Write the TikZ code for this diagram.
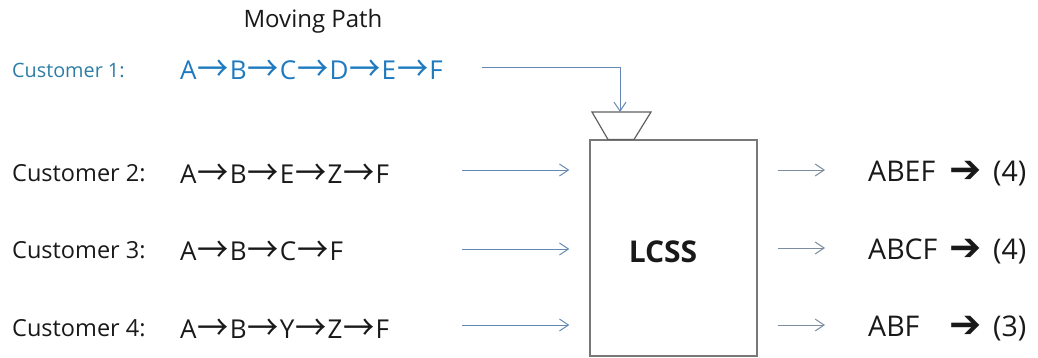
\documentclass[tikz,border=0pt]{standalone}
\usepackage{fontspec}
\usepackage{graphicx}
\setmainfont{Open Sans}
\newfontfamily\arrowfont{Noto Sans CJK KR}
\newfontfamily\symfont{DejaVu Sans}
\usetikzlibrary{arrows.meta}
\definecolor{custblue}{RGB}{45,125,165}
\definecolor{pathblue}{RGB}{30,122,192}
\definecolor{flowline}{RGB}{100,135,180}
\definecolor{outline}{RGB}{125,140,158}
\definecolor{boxgray}{RGB}{120,120,120}
\definecolor{inktext}{RGB}{25,25,25}
% arrow between two stops of a path, widened to match the letters
\newcommand{\stepto}{{\arrowfont\kern1pt\raisebox{-0.1em}{\scalebox{1.2}[1.35]{→}}\kern1pt}}
\newcommand{\fatarrow}{{\symfont\raisebox{-0.06em}{\scalebox{1.35}{➔}}}}
\begin{document}
\begin{tikzpicture}[x=1pt,y=-1pt,
  txt/.style={inner sep=0pt,anchor=base west,text=inktext},
  custlabel/.style={txt,font=\fontsize{23.5}{26}\selectfont},
  pathtext/.style={txt,font=\fontsize{26}{30}\selectfont},
  outtext/.style={txt,font=\fontsize{28.5}{32}\selectfont},
  flow/.style={draw=flowline,line width=1pt,-{Straight Barb[length=9pt,width=12pt,line width=1pt]}},
  outflow/.style={draw=outline,line width=1pt,-{Straight Barb[length=9pt,width=12pt,line width=1pt]}}
]
\useasboundingbox (0,0) rectangle (1038,357);

% heading
\node[txt,font=\fontsize{24}{27}\selectfont,anchor=base] (head) at (313,27) {Moving Path};

% customer rows
\node[custlabel,text=custblue,font=\fontsize{19.8}{23}\selectfont] (c1) at (12,77) {Customer 1:};
\node[pathtext,text=pathblue] (p1) at (180,79) {A\stepto B\stepto C\stepto D\stepto E\stepto F};
\node[custlabel] (c2) at (12,181) {Customer 2:};
\node[pathtext] (p2) at (180,183) {A\stepto B\stepto E\stepto Z\stepto F};
\node[custlabel] (c3) at (12,258) {Customer 3:};
\node[pathtext] (p3) at (180,260) {A\stepto B\stepto C\stepto F};
\node[custlabel] (c4) at (12,336) {Customer 4:};
\node[pathtext] (p4) at (180,338) {A\stepto B\stepto Y\stepto Z\stepto F};

% LCSS block and its hopper
\node[draw=boxgray,line width=1.3pt,minimum width=167pt,minimum height=216pt,inner sep=0pt] (lcss) at (673.5,248) {};
\node[inner sep=0pt,font=\fontsize{30}{33}\selectfont\bfseries,text=inktext] (lcsslabel) at (663,252) {LCSS};
\draw[draw=boxgray!80!black,line width=1.2pt] (592,112) -- (651,112) -- (634,139.5) -- (608,139.5) -- cycle;
\coordinate (hopper) at (620,112);

% customer 1 feed into hopper
\coordinate (s1) at (482,67);
\draw[flow] (s1) -- (hopper |- s1) -- (hopper);

% customer 2-4 feeds
\coordinate (s2) at (462,170);
\coordinate (s3) at (462,249);
\coordinate (s4) at (462,325);
\draw[flow,shorten >=20pt] (s2) -- (lcss.west |- s2);
\draw[flow,shorten >=20pt] (s3) -- (lcss.west |- s3);
\draw[flow,shorten >=20pt] (s4) -- (lcss.west |- s4);

% results: pattern, arrow, count
\node[outtext] (r1) at (868,181) {ABEF};
\node[outtext] (a1) at (949,181) {\fatarrow};
\node[outtext] (n1) at (993,181) {(4)};
\node[outtext] (r2) at (868,259) {ABCF};
\node[outtext] (a2) at (949,259) {\fatarrow};
\node[outtext] (n2) at (993,259) {(4)};
\node[outtext] (r3) at (868,336) {ABF};
\node[outtext] (a3) at (949,336) {\fatarrow};
\node[outtext] (n3) at (993,336) {(3)};

\coordinate (e1) at (825,170);
\coordinate (e2) at (825,248);
\coordinate (e3) at (825,325);
\draw[outflow,shorten <=20pt] (lcss.east |- e1) -- (e1);
\draw[outflow,shorten <=20pt] (lcss.east |- e2) -- (e2);
\draw[outflow,shorten <=20pt] (lcss.east |- e3) -- (e3);
\end{tikzpicture}
\end{document}
